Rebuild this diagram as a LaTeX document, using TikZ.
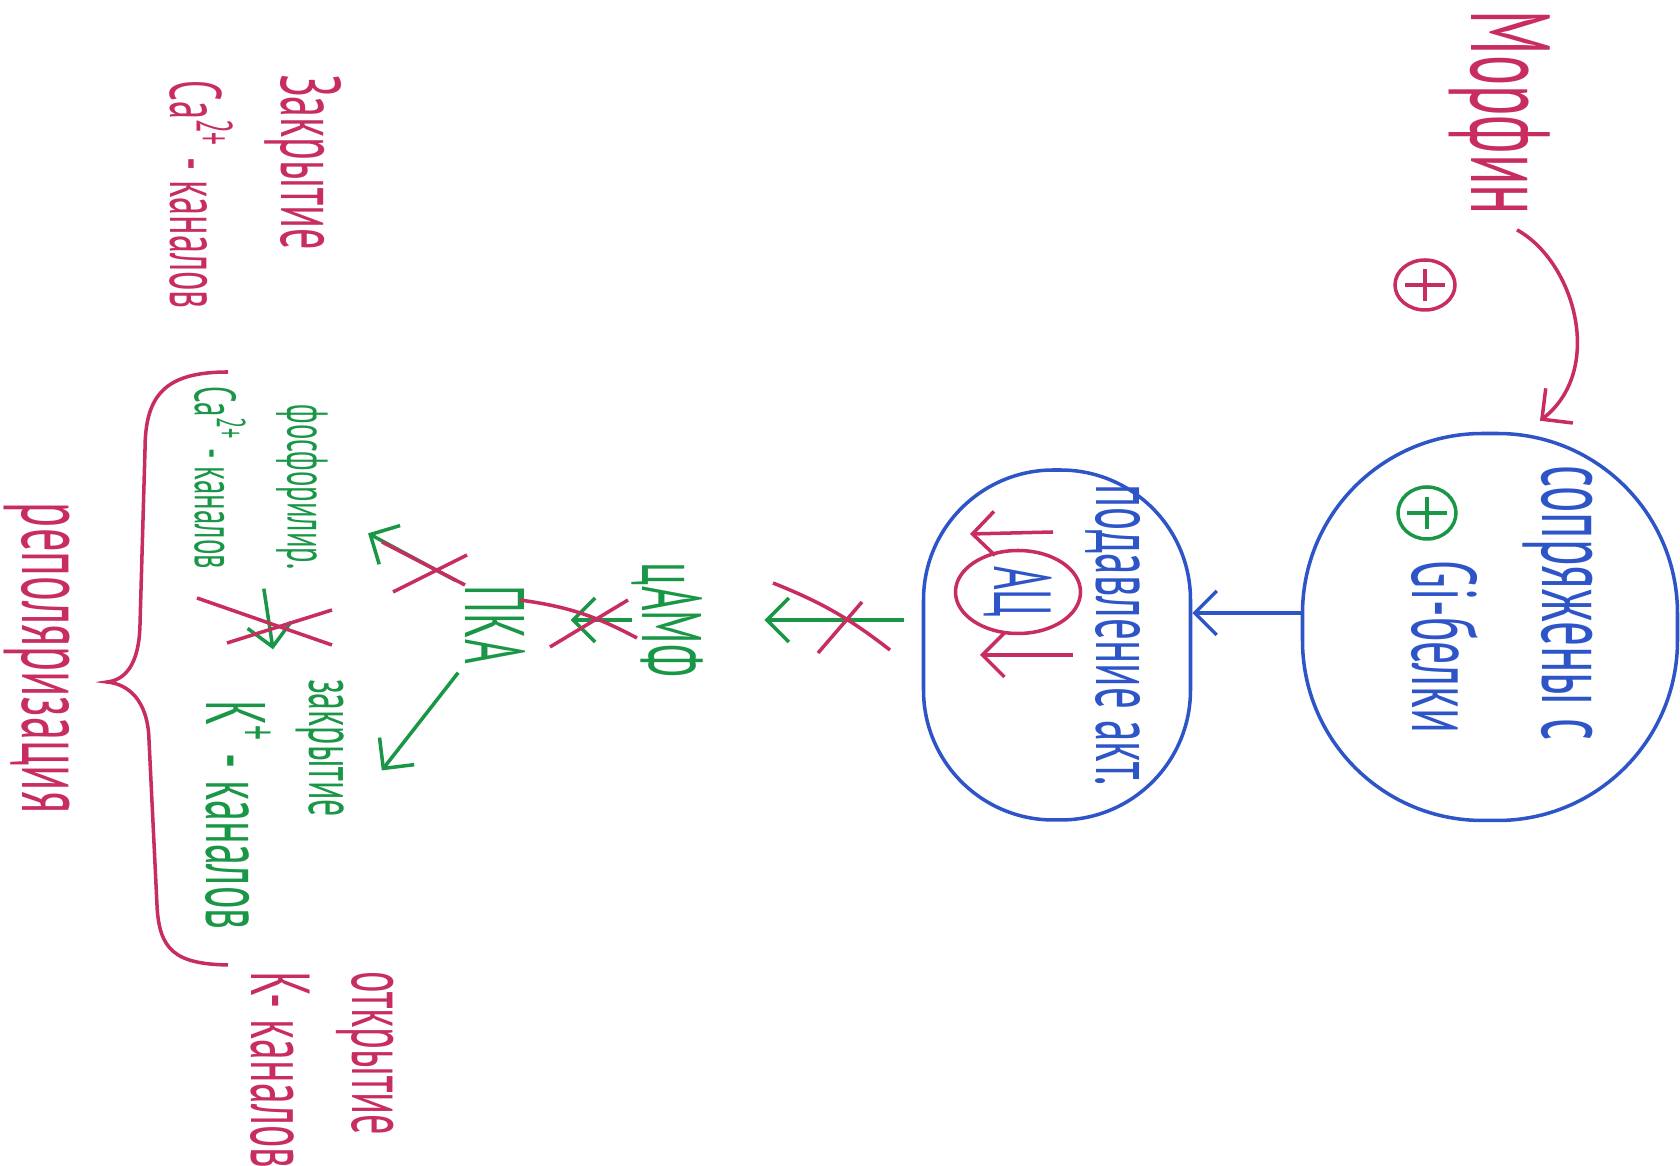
\documentclass[tikz,border=0pt]{standalone}
\usepackage{fontspec}
\setmainfont{PT Sans}[FakeStretch=0.5]
\usepackage{tikz}
\usetikzlibrary{shapes.geometric, arrows.meta, calc}
\definecolor{redpen}{RGB}{200,45,95}
\definecolor{bluepen}{RGB}{45,85,200}
\definecolor{greenpen}{RGB}{25,150,70}
\newcommand{\fs}[1]{\fontsize{#1}{#1}\selectfont}
\tikzstyle{hand} = [rotate=-90, inner sep=0pt]
\tikzstyle{blob} = [rectangle, draw=bluepen, line width=1pt]
\tikzstyle{pluscirc} = [ellipse, draw, line width=1pt, inner sep=0pt, path picture={\draw[line width=1pt] ([xshift=-2mm]path picture bounding box.center) -- ([xshift=2mm]path picture bounding box.center) ([yshift=-1.6mm]path picture bounding box.center) -- ([yshift=1.6mm]path picture bounding box.center);}]
\tikzstyle{arrow} = [line width=1pt, -{Straight Barb[length=2.2mm, width=4.4mm]}]
\tikzstyle{strike} = [redpen, line width=1pt]

\begin{document}
\begin{tikzpicture}[x=0.1mm, y=-0.1mm]
    \useasboundingbox (0,0) rectangle (1680,1166);
    \node (morphin) [hand, redpen, font=\fs{32}] at (1500,113) {Морфин};
    \node (plusR) [pluscirc, color=redpen, minimum width=6mm, minimum height=5mm] at (1425,285) {};
    \node (gi) [blob, minimum width=37.5mm, minimum height=38.7mm, rounded corners=18mm] at (1490,627) {};
    \node (sopr) [hand, bluepen, font=\fs{28}] at (1558,603) {сопряжены с};
    \node (gibel) [hand, bluepen, font=\fs{26}] at (1445,647) {Gi-белки};
    \node (plusG) [pluscirc, color=greenpen, minimum width=5.8mm, minimum height=5.2mm] at (1427,513) {};
    \node (inhib) [blob, minimum width=26.7mm, minimum height=35mm, rounded corners=13mm] at (1057,645) {};
    \node (podavl) [hand, bluepen, font=\fs{24.5}] at (1113,635) {подавление акт.};
    \node (ac) [hand, ellipse, draw=redpen, text=bluepen, line width=1pt, font=\fs{23}, inner sep=0pt, minimum width=8.3mm, minimum height=12.5mm] at (1018,592) {АЦ};
    \node (camp) [hand, greenpen, font=\fs{24}] at (668,620) {цАМФ};
    \node (pka) [hand, greenpen, font=\fs{24}] at (495,625) {ПКА};
    \node (fosf) [hand, greenpen, font=\fs{16.3}] at (302,487) {фосфорилир.};
    \node (caG) [hand, greenpen, font=\fs{16.5}] at (220,478) {Ca\textsuperscript{2+} - каналов};
    \node (zakrG) [hand, greenpen, font=\fs{19.3}] at (320,748) {закрытие};
    \node (kG) [hand, greenpen, font=\fs{24}] at (238,815) {K\textsuperscript{+} - каналов};
    \node (zakrR) [hand, redpen, font=\fs{24}] at (303,162) {Закрытие};
    \node (caR) [hand, redpen, font=\fs{20.7}] at (201,195) {Ca\textsuperscript{2+} - каналов};
    \node (otkr) [hand, redpen, font=\fs{23}] at (365,1053) {открытие};
    \node (kR) [hand, redpen, font=\fs{23.8}] at (280,1070) {K- каналов};
    \node (repol) [hand, redpen, font=\fs{26.4}] at (37,658) {реполяризация};
    \coordinate (blueY) at (0,613);
    % morphine acts on the receptor
    \draw [arrow, redpen] ([xshift=1.7mm, yshift=-1.4mm]morphin.east) .. controls (1575,262) and (1605,370) .. ([xshift=5mm, yshift=1.1mm]gi.north);
    \draw [arrow, bluepen] (gi.west |- blueY) -- (inhib.east |- blueY);
    \draw [arrow, redpen] ([shift={(35,-60)}]ac.center) -- ([shift={(-48,-58)}]ac.center);
    \draw [arrow, redpen] ([shift={(55,63)}]ac.center) -- ([shift={(-38,63)}]ac.center);
    \draw [arrow, greenpen, shorten <=1.8mm, shorten >=6mm] (inhib.west |- camp.center) -- (camp.north);
    \draw [arrow, greenpen, shorten >=4.5mm] (camp.south) -- (camp.south -| pka.north);
    \draw [arrow, greenpen, shorten <=1mm, shorten >=4.5mm] (pka.south west) -- ([yshift=-2.5mm]fosf.north);
    \draw [arrow, greenpen, shorten <=1.9mm, shorten >=4mm] ($(fosf.east)!0.5!(caG.east)$) -- ($(zakrG.west)!0.5!(kG.west)$);
    \draw [arrow, greenpen, shorten <=1mm, shorten >=6mm] (pka.south east) -- (zakrG.north east);
    % crossed out steps
    \draw [strike] (773,583) to[bend left=8] (890,650);
    \draw [strike] (818,653) -- (862,602);
    \draw [strike] (520,600) to[bend left=10] (637,638);
    \draw [strike] (550,647) -- (628,600);
    \draw [strike] (382,542) -- (465,585);
    \draw [strike] (393,592) -- (467,555);
    \draw [strike] (197,598) -- (332,645);
    \draw [strike] (227,643) -- (332,610);
    % brace
    \draw [strike] (228,372) .. controls (165,372) and (145,395) .. (145,450) -- (140,625) .. controls (139,665) and (125,680) .. (107,682) .. controls (128,684) and (148,700) .. (149,740) -- (157,905) .. controls (159,950) and (175,964) .. (228,965);
\end{tikzpicture}
\end{document}
